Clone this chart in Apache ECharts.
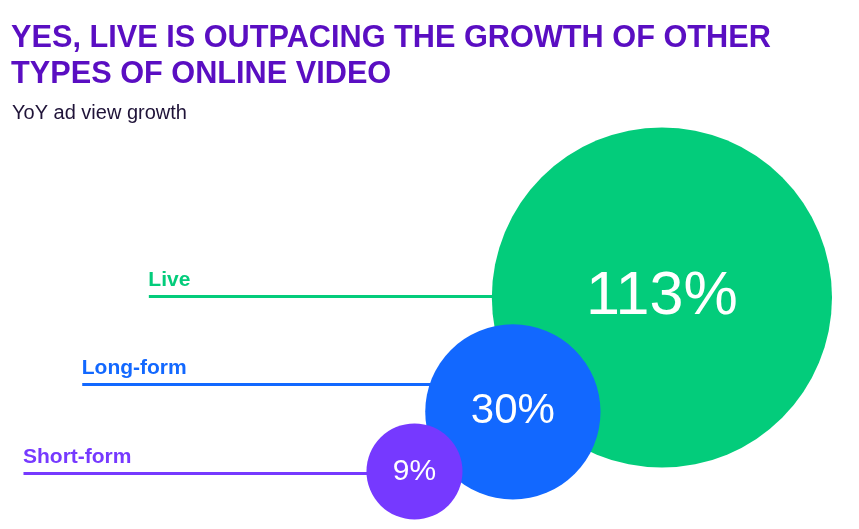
<!DOCTYPE html>
<html>
<head>
<meta charset="utf-8">
<script src="https://cdn.jsdelivr.net/npm/echarts@6/dist/echarts.min.js"></script>
<style>
html,body{margin:0;padding:0;background:#fff;}
#chart{width:859px;height:529px;}
</style>
</head>
<body>
<div id="chart"></div>
<script>
// ---- data ----
const titleText = 'YES, LIVE IS OUTPACING THE GROWTH OF OTHER\nTYPES OF ONLINE VIDEO';
const subtitleText = 'YoY ad view growth';
const categories = ['Live', 'Long-form', 'Short-form'];
const growthPct = [113, 30, 9];
const valueLabels = ['113%', '30%', '9%'];

// ---- style / layout ----
const W = 859, H = 529;
const colors = ['#03cc7b', '#1268ff', '#7639ff'];
const FONT = '"Liberation Sans", Arial, Helvetica, sans-serif';
const bubbleScale = 16;                 // px radius per sqrt(percent)
const radius = v => bubbleScale * Math.sqrt(v);
const rowTop = 296, rowGap = 88.5;      // leader-line rows
const anchorRight = 832;                // right edge of the biggest bubble
const links = [                          // how each bubble nests on the previous one
  { angle: 142.5, overlap: 0.729 },
  { angle: 148.8, overlap: 0.848 }
];
const leaderLength = 343;

const radii = growthPct.map(radius);
const centers = [];
centers.push([anchorRight - radii[0], rowTop + 1.5]);
for (let i = 1; i < growthPct.length; i++) {
  const p = centers[i - 1];
  const l = links[i - 1];
  const d = (radii[i - 1] + radii[i]) * l.overlap;
  const a = l.angle * Math.PI / 180;
  centers.push([p[0] + d * Math.cos(a), p[1] + d * Math.sin(a)]);
}
const rowY = categories.map((c, i) => rowTop + i * rowGap);
const leaderStart = centers.map((c, i) => c[0] - radii[i] - leaderLength);
const labelFont = r => 3.405 * Math.pow(r, 0.562);

const chart = echarts.init(document.getElementById('chart'), null, { renderer: 'canvas' });
chart.setOption({
  animation: false,
  backgroundColor: '#ffffff',
  title: [
    {
      text: titleText, left: 11, top: 21, padding: 0,
      textStyle: { fontFamily: FONT, fontSize: 30.7, fontWeight: 'bold', color: '#5a0ec2', lineHeight: 36 }
    },
    {
      text: subtitleText, left: 12, top: 103, padding: 0,
      textStyle: { fontFamily: FONT, fontSize: 20, fontWeight: 'normal', color: '#1f1338', lineHeight: 20 }
    }
  ],
  grid: { left: 0, right: 0, top: 0, bottom: 0 },
  xAxis: { type: 'value', min: 0, max: W, show: false },
  yAxis: { type: 'value', min: 0, max: H, inverse: true, show: false },
  series: [
    {
      type: 'lines',
      coordinateSystem: 'cartesian2d',
      z: 1,
      silent: true,
      data: categories.map((c, i) => ({
        coords: [[leaderStart[i], rowY[i]], [centers[i][0], rowY[i]]],
        lineStyle: { color: colors[i], width: 3, opacity: 1 }
      }))
    },
    {
      type: 'scatter',
      z: 2,
      silent: true,
      symbol: 'circle',
      symbolSize: 1,
      itemStyle: { color: 'rgba(0,0,0,0)', opacity: 1 },
      data: categories.map((c, i) => ({
        value: [leaderStart[i], rowY[i]],
        name: c,
        label: { color: colors[i] }
      })),
      label: {
        show: true,
        opacity: 1,
        position: [0, 0],
        align: 'left',
        verticalAlign: 'bottom',
        offset: [0, -5],
        formatter: p => p.name,
        fontFamily: FONT,
        fontSize: 21,
        fontWeight: 'bold'
      }
    },
    {
      type: 'scatter',
      z: 3,
      silent: true,
      symbol: 'circle',
      data: categories.map((c, i) => ({
        value: [centers[i][0], centers[i][1], growthPct[i]],
        name: c,
        symbolSize: 2 * radius(growthPct[i]),
        itemStyle: { color: colors[i], opacity: 1 },
        label: { fontSize: labelFont(radii[i]) }
      })),
      label: {
        show: true,
        opacity: 1,
        position: 'inside',
        color: '#ffffff',
        fontFamily: FONT,
        fontWeight: 'normal',
        formatter: p => valueLabels[p.dataIndex]
      }
    }
  ]
});
</script>
</body>
</html>
